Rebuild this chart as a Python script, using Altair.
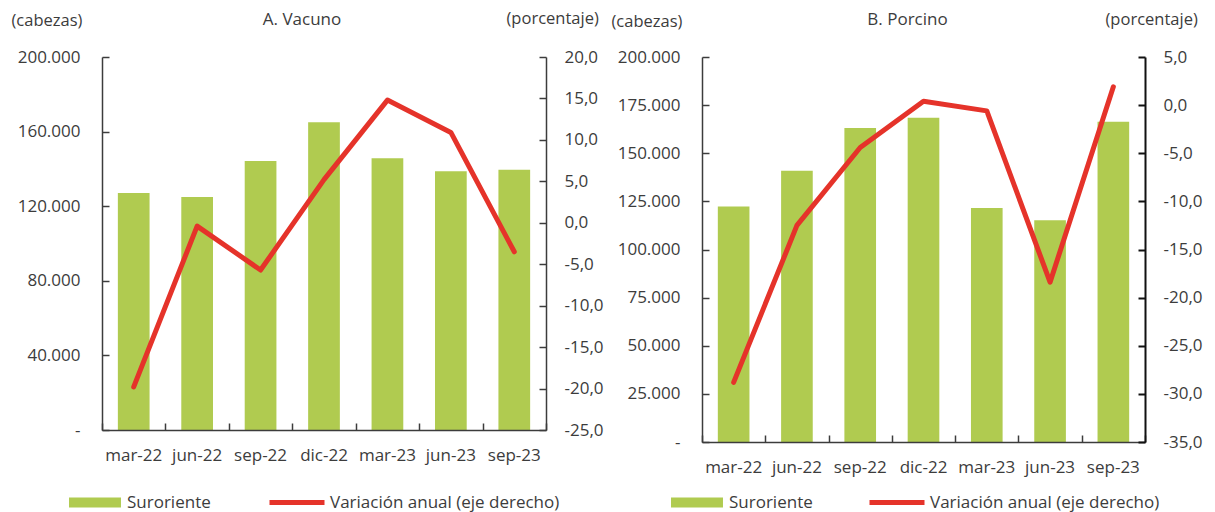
import altair as alt
import pandas as pd

periodos = ["mar-22", "jun-22", "sep-22", "dic-22", "mar-23", "jun-23", "sep-23"]

vacuno_cabezas = [127100, 125000, 144300, 165000, 145700, 138800, 139600]
vacuno_variacion = [-19.8, -0.4, -5.7, 5.2, 14.8, 10.9, -3.5]

porcino_cabezas = [122400, 140900, 163100, 168400, 121600, 115200, 166400]
porcino_variacion = [-28.8, -12.5, -4.4, 0.4, -0.6, -18.4, 1.9]

vacuno_ticks_izq = [0, 40000, 80000, 120000, 160000, 200000]
vacuno_ticks_der = [-25, -20, -15, -10, -5, 0, 5, 10, 15, 20]
porcino_ticks_izq = [0, 25000, 50000, 75000, 100000, 125000, 150000, 175000, 200000]
porcino_ticks_der = [-35, -30, -25, -20, -15, -10, -5, 0, 5]

serie_barras = "Suroriente"
serie_linea = "Variación anual (eje derecho)"

FONT = "Open Sans"
TXT = "#3c3c3c"
AX = "#3c3c3c"
GREEN = "#b0cb50"
RED = "#e5332a"

LEFT_EXPR = "datum.value == 0 ? '-' : replace(format(datum.value, ','), ',', '.')"
RIGHT_EXPR = "(datum.value < 0 ? '-' : '') + replace(format(abs(datum.value), '.1f'), '.', ',')"


def panel(titulo, cab, var, ticks_izq, ticks_der, w, h, title_dx, title_off,
          cab_ty, por_ty, right_dom_color, right_dom_width, leg1_x, leg2_x):
    df = pd.DataFrame({
        "periodo": periodos,
        "cabezas": cab,
        "variacion": var,
        "s1": serie_barras,
        "s2": serie_linea,
    })
    base = alt.Chart(df)
    xs = alt.Scale(domain=periodos, paddingInner=0, paddingOuter=0)

    def X(axis):
        return alt.X("periodo:N", sort=periodos, scale=xs, title=None, axis=axis)

    ly = alt.Scale(domain=[ticks_izq[0], ticks_izq[-1]], nice=False, zero=False)
    ry = alt.Scale(domain=[ticks_der[0], ticks_der[-1]], nice=False, zero=False)

    bars = base.mark_bar(width=alt.RelativeBandSize(0.5)).encode(
        x=X(alt.Axis(orient="bottom", labelAngle=0, ticks=False, tickSize=0,
                     labelPadding=17, domain=True, domainColor=AX, domainWidth=1.5,
                     grid=False, zindex=1)),
        y=alt.Y("cabezas:Q", scale=ly,
                axis=alt.Axis(orient="left", values=ticks_izq, labelExpr=LEFT_EXPR,
                              ticks=False, tickSize=0, labelPadding=22, grid=False,
                              domain=True, domainColor=AX, domainWidth=1.5, zindex=1,
                              title="(cabezas)", titleAngle=0, titleAlign="left",
                              titleBaseline="middle", titleX=-91, titleY=cab_ty)),
        fill=alt.Fill("s1:N", scale=alt.Scale(domain=[serie_barras], range=[GREEN]),
                      legend=alt.Legend(title=None, orient="none", legendX=leg1_x, legendY=419.5,
                                        symbolType="M-1,-0.19H1V0.19H-1Z", symbolSize=2700,
                                        symbolStrokeWidth=0, labelOffset=6, labelLimit=0)),
    )

    line = base.mark_line(strokeWidth=5, strokeJoin="round", strokeCap="round").encode(
        x=X(None),
        y=alt.Y("variacion:Q", scale=ry,
                axis=alt.Axis(orient="right", values=ticks_der, labelExpr=RIGHT_EXPR,
                              ticks=False, tickSize=0, labelPadding=18, grid=False,
                              domain=True, domainColor=right_dom_color,
                              domainWidth=right_dom_width, zindex=1,
                              title="(porcentaje)", titleAngle=0, titleAlign="left",
                              titleBaseline="middle", titleX=-40, titleY=por_ty)),
        stroke=alt.Stroke("s2:N", scale=alt.Scale(domain=[serie_linea], range=[RED]),
                          legend=alt.Legend(title=None, orient="none", legendX=leg2_x, legendY=415.5,
                                            symbolType="stroke", symbolSize=3025,
                                            symbolStrokeWidth=5, labelOffset=3, labelLimit=0)),
    )

    ticks_l = base.mark_point(opacity=0).encode(
        x=X(alt.Axis(orient="bottom", offset=-7, tickSize=7, tickBand="extent",
                     labels=False, domain=False, tickColor=AX, tickWidth=1.5,
                     grid=False, title=None, zindex=1)),
        y=alt.Y("cabezas:Q", scale=ly,
                axis=alt.Axis(orient="left", offset=-7, tickSize=7, values=ticks_izq,
                              labels=False, domain=False, tickColor=AX, tickWidth=1.5,
                              grid=False, title=None, zindex=1)),
    )

    ticks_r = base.mark_point(opacity=0).encode(
        x=X(None),
        y=alt.Y("variacion:Q", scale=ry,
                axis=alt.Axis(orient="right", offset=-7, tickSize=7, values=ticks_der,
                              labels=False, domain=False, tickColor=right_dom_color,
                              tickWidth=right_dom_width, grid=False, title=None, zindex=1)),
    )

    return alt.layer(bars, line, ticks_l, ticks_r).resolve_scale(
        y="independent"
    ).resolve_axis(x="independent", y="independent").properties(
        width=w, height=h,
        title=alt.TitleParams(titulo, frame="group", anchor="middle", dx=title_dx,
                              offset=title_off, fontSize=17, font=FONT, fontWeight="normal",
                              color=TXT),
    )


left = panel("A. Vacuno", vacuno_cabezas, vacuno_variacion, vacuno_ticks_izq,
             vacuno_ticks_der, 444, 373, -22, -18, -37, -38.5, AX, 1.5, -33, 165)
right = panel("B. Porcino", porcino_cabezas, porcino_variacion, porcino_ticks_izq,
              porcino_ticks_der, 443, 385, -16, -18, -36, -38, "#111111", 2, -31, 165)

chart = alt.hconcat(left, right, spacing=156, bounds="flush").resolve_scale(
    fill="independent", stroke="independent"
).configure(
    padding={"left": 3, "top": 2, "right": 0, "bottom": 0},
    font=FONT,
).configure_view(stroke=None).configure_axis(
    labelFont=FONT, labelFontSize=17, labelColor=TXT,
    titleFont=FONT, titleFontSize=16.5, titleFontWeight="normal", titleColor=TXT,
).configure_legend(
    labelFont=FONT, labelFontSize=17, labelColor=TXT, padding=0, offset=0,
)

chart.save("out.html", embed_options={"renderer": "svg", "actions": False})
